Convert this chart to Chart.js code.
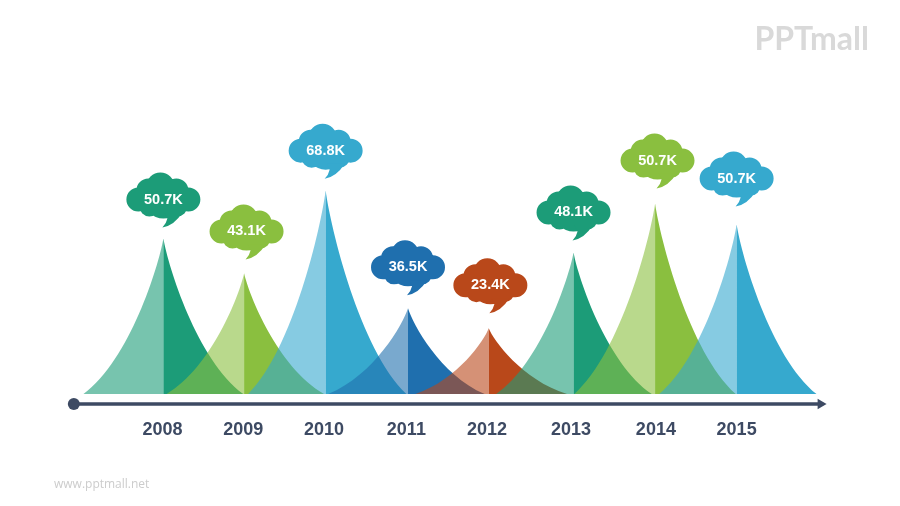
<!DOCTYPE html>
<html>
<head>
<meta charset="utf-8">
<style>html,body{margin:0;padding:0;background:#fff}#w{width:900px;height:506px;position:relative}</style>
<script src="https://cdn.jsdelivr.net/npm/chart.js@4"></script>
</head>
<body>
<div id="w"><canvas id="c"></canvas></div>
<script>
const yearLabels  = ['2008','2009','2010','2011','2012','2013','2014','2015'];
const tickYears   = [2007.98,2008.97,2009.96,2010.97,2011.96,2012.99,2014.03,2015.02];
const peakYears   = [2007.99,2008.98,2009.98,2010.99,2011.98,2013.02,2014.02,2015.02];
const peakHeights = [156,121,204,86,66,142,191,170];
const baseStart   = [2007.01,2008.03,2009.03,2010.01,2011.08,2012.07,2013.03,2014.07];
const baseEnd     = [2008.97,2009.96,2010.97,2011.93,2012.94,2013.98,2015.01,2016.00];
const valueLabels = ['50.7K','43.1K','68.8K','36.5K','23.4K','48.1K','50.7K','50.7K'];
const cloudYears  = [2007.99,2009.01,2009.98,2010.99,2012.00,2013.02,2014.05,2015.02];
const cloudLevels = [196,164,245,128,110,183,235,217];
const colors = ['#1c9c78','#8abf3f','#36a9ce','#1f6fae','#b9481a','#1c9c78','#8abf3f','#36a9ce'];
const axisYears  = [2006.892,2016.05];
const axisLevels = [-10,-10];
const INK = '#3d4a63';

const lobes = [[-25,1,12],[-15,-8,12],[-3,-12,14],[13,-8,12],[25,1,12],[14,8,10],[-1,9,9],[-14,8,10],[0,0,20]];

const shapes = {
  id:'shapes',
  beforeDatasetsDraw(chart){
    const {ctx,scales:{x,y}} = chart;
    const base = y.getPixelForValue(0);
    const pts = chart.getDatasetMeta(0).data;
    ctx.save();
    const half = (px,py,ex)=>{
      const w = ex-px, h = base-py;
      ctx.beginPath();
      ctx.moveTo(px,py);
      ctx.bezierCurveTo(px+w*.06,py+h*.18,px+w*.42,py+h*.78,ex,base);
      ctx.lineTo(px,base);
      ctx.closePath();
      ctx.fill();
    };
    pts.forEach((p,i)=>{
      ctx.fillStyle = colors[i];
      ctx.globalAlpha = .6;
      half(p.x,p.y,x.getPixelForValue(baseStart[i]));
      ctx.globalAlpha = 1;
      half(p.x,p.y,x.getPixelForValue(baseEnd[i]));
    });
    ctx.restore();
  },
  afterDatasetsDraw(chart){
    const {ctx} = chart;
    const pts = chart.getDatasetMeta(1).data;
    ctx.save();
    pts.forEach((p,i)=>{
      ctx.fillStyle = colors[i];
      ctx.beginPath();
      lobes.forEach(([dx,dy,r])=>{ctx.moveTo(p.x+dx+r,p.y+dy);ctx.arc(p.x+dx,p.y+dy,r,0,Math.PI*2);});
      ctx.fill();
      ctx.beginPath();
      ctx.moveTo(p.x+1,p.y+14);
      ctx.lineTo(p.x+4,p.y+20);
      ctx.quadraticCurveTo(p.x+3,p.y+25,p.x-1,p.y+29);
      ctx.quadraticCurveTo(p.x+11,p.y+27,p.x+19,p.y+14);
      ctx.closePath();
      ctx.fill();
      ctx.fillStyle='#fff';
      ctx.font='bold 14.5px "Liberation Sans"';
      ctx.textAlign='center';ctx.textBaseline='middle';
      ctx.fillText(valueLabels[i],p.x,p.y+1);
    });
    ctx.fillStyle='#d9d9d9';
    ctx.font='bold 32px Lato';
    ctx.textAlign='right';ctx.textBaseline='alphabetic';
    ctx.fillText('PPTmall',869,50);
    ctx.fillStyle='#cccccc';
    ctx.font='12px "Open Sans"';
    ctx.textAlign='left';ctx.textBaseline='middle';
    ctx.fillText('www.pptmall.net',54,485);
    ctx.restore();
  }
};

new Chart(document.getElementById('c'),{
  type:'line',
  data:{datasets:[
    {label:'peaks',data:peakYears.map((v,i)=>({x:v,y:peakHeights[i]})),showLine:false,pointRadius:0},
    {label:'callouts',data:cloudYears.map((v,i)=>({x:v,y:cloudLevels[i]})),showLine:false,pointRadius:0},
    {label:'axis',clip:false,data:axisYears.map((v,i)=>({x:v,y:axisLevels[i]})),borderColor:INK,borderWidth:3.5,
     pointStyle:['circle','triangle'],pointRotation:[0,90],pointRadius:[6,6],pointBackgroundColor:INK,pointBorderColor:INK,pointBorderWidth:0}
  ]},
  options:{
    responsive:true,maintainAspectRatio:false,animation:false,
    layout:{padding:0},
    plugins:{legend:{display:false},tooltip:{enabled:false},title:{display:false}},
    scales:{
      x:{type:'linear',min:2006.06,max:2016.95,grid:{display:false},border:{display:false},
        afterBuildTicks(s){s.ticks=tickYears.map(value=>({value}));},
        afterFit(s){s.height=102;},
        ticks:{autoSkip:false,maxRotation:0,padding:7,color:INK,font:{family:'"Liberation Sans"',weight:'bold',size:18},
          callback:(v,i)=>yearLabels[i]}},
      y:{display:false,min:-10,max:389}
    }
  },
  plugins:[shapes]
});
</script>
</body>
</html>
